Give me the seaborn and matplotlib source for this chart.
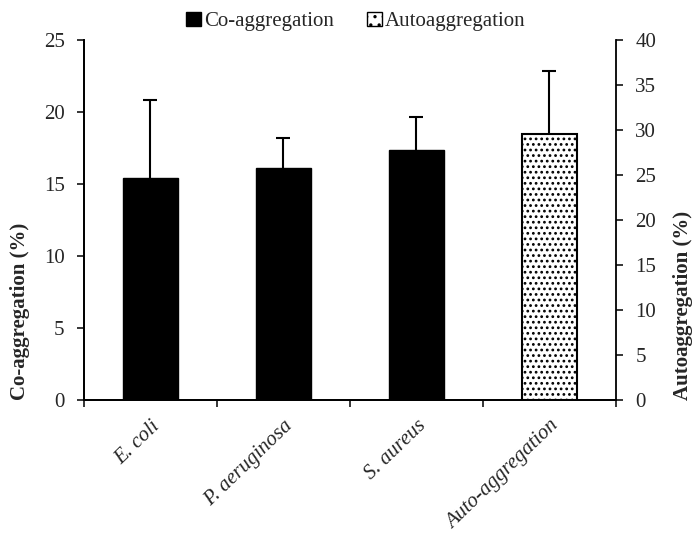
import pandas as pd
import matplotlib
matplotlib.use("Agg")
import matplotlib.pyplot as plt
import matplotlib.patches as mpatches
import seaborn as sns

# values
categories = ["E. coli", "P. aeruginosa", "S. aureus", "Auto-aggregation"]
co_names = ["E. coli", "P. aeruginosa", "S. aureus"]
co_values = [15.4, 16.1, 17.35]
co_err = [5.45, 2.1, 2.3]
auto_names = ["Auto-aggregation"]
auto_values = [29.5]
auto_err = [7.0]

sns.set_style("ticks")
plt.rcParams["font.family"] = ["Liberation Serif", "DejaVu Serif"]
plt.rcParams["hatch.linewidth"] = 1.2

co_df = pd.DataFrame({"Strain": co_names, "Value": co_values})
auto_df = pd.DataFrame({"Strain": auto_names, "Value": auto_values})

fig = plt.figure(figsize=(6.92, 5.33), dpi=100)
ax = fig.add_axes([0.1214, 0.2495, 0.7686, 0.6755])
ax2 = ax.twinx()


def up_errorbars(a, x, y, err):
    # one-sided error bars, cap only on top
    _, caps, _ = a.errorbar(x, y, yerr=[[0] * len(err), err], fmt="none",
                            ecolor="black", elinewidth=1.5, capsize=5, capthick=1.5)
    caps[0].set_visible(False)


# --- Co-aggregation bars (left axis) ---
sns.barplot(data=co_df, x="Strain", y="Value", order=categories, color="black",
            width=0.41, edgecolor="black", linewidth=1, errorbar=None, ax=ax)
up_errorbars(ax, co_names, co_values, co_err)

# --- Autoaggregation bar (right axis) ---
sns.barplot(data=auto_df, x="Strain", y="Value", order=categories, color="white",
            width=0.41, edgecolor="black", linewidth=1.5, errorbar=None, ax=ax2)
for p in ax2.patches:
    p.set_hatch("...")
up_errorbars(ax2, auto_names, auto_values, auto_err)

ax.set_ylim(0, 25)
ax2.set_ylim(0, 40)
ax.set_xlim(-0.5, 3.5)
ax.set_yticks(range(0, 26, 5))
ax2.set_yticks(range(0, 41, 5))

ax.set_xlabel("")
ax2.set_xlabel("")
ax.set_ylabel("Co-aggregation (%)", fontsize=15, fontweight="bold", loc="bottom", labelpad=10)
ax2.set_ylabel("Autoaggregation (%)", fontsize=15, fontweight="bold", loc="bottom", labelpad=12)

# x ticks at the boundaries between groups, labels at the centres
ax.set_xticks(range(len(categories)))
ax.set_xticklabels(categories, rotation=44, ha="right", rotation_mode="anchor",
                   fontstyle="italic", fontsize=15)
ax.set_xticks([-0.5, 0.5, 1.5, 2.5, 3.5], minor=True)
ax.tick_params(axis="x", which="major", length=0, pad=12)
ax.tick_params(axis="x", which="minor", length=5, width=1.3, direction="out")
ax.tick_params(axis="y", labelsize=15, length=5, width=1.3, direction="out", pad=9)
ax2.tick_params(axis="y", labelsize=15, length=5, width=1.3, direction="out", pad=9)

for a in (ax, ax2):
    a.spines["top"].set_visible(False)
    for s in a.spines.values():
        s.set_linewidth(1.3)
        s.set_color("black")
ax.spines["right"].set_visible(False)

handles = [
    mpatches.Patch(facecolor="black", edgecolor="black", label="Co-aggregation"),
    mpatches.Patch(facecolor="white", edgecolor="black", hatch="..",
                   label="Autoaggregation"),
]
fig.legend(handles=handles, loc="center", bbox_to_anchor=(0.514, 0.96), ncol=2,
           frameon=False, fontsize=15, handlelength=0.7, handleheight=0.7,
           handletextpad=0.15, columnspacing=1.6, borderpad=0)

fig.savefig("out.png", dpi=100)
